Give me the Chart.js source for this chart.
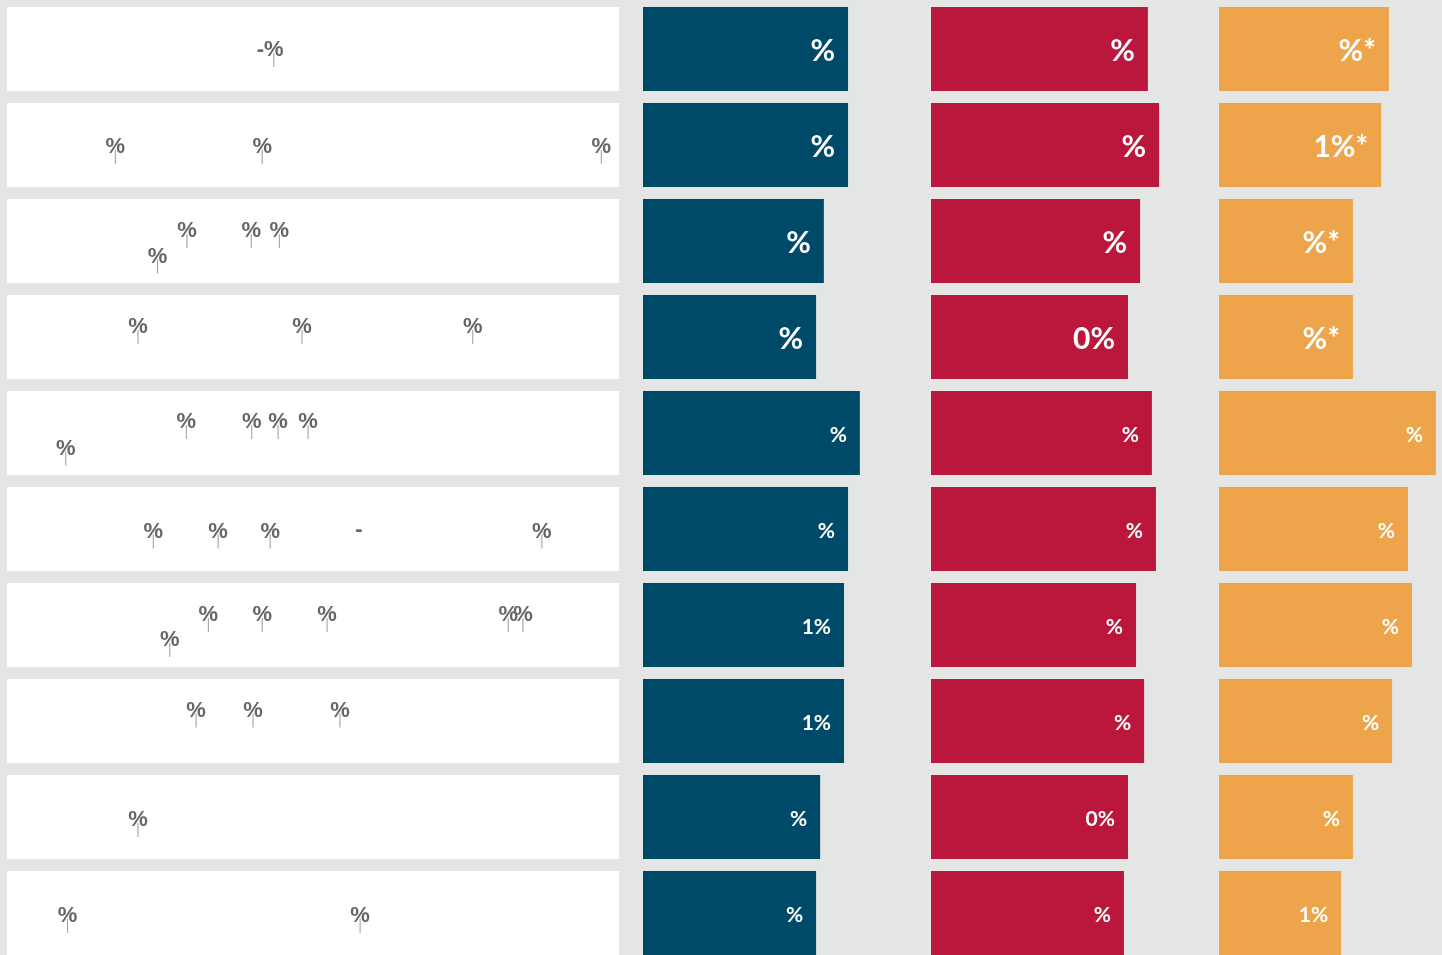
<!DOCTYPE html>
<html>
<head>
<meta charset="utf-8">
<script src="https://cdn.jsdelivr.net/npm/chart.js@4.4.1/dist/chart.umd.min.js"></script>
<style>
  html, body { margin: 0; padding: 0; width: 1442px; height: 955px; overflow: hidden; background: #e4e6e5; }
  canvas { position: absolute; top: 1px; }
</style>
</head>
<body>
<canvas id="scat" width="612" height="960" style="left:7px"></canvas>
<canvas id="c1" width="288" height="960" style="left:643px"></canvas>
<canvas id="c2" width="288" height="960" style="left:931px"></canvas>
<canvas id="c3" width="288" height="960" style="left:1219px"></canvas>
<script>
// ---- data ----
const rows = ["1", "2", "3", "4", "5", "6", "7", "8", "9", "10"];

const blueValues   = [71.2, 71.2, 62.8, 60.1, 75.3, 71.2, 69.8, 69.8, 61.5, 60.1];
const redValues    = [75.3, 79.2, 72.6, 68.4, 76.7, 78.1, 71.2, 74.0, 68.4, 67.0];
const orangeValues = [59.0, 56.3, 46.5, 46.5, 75.3, 65.6, 67.0, 60.1, 46.5, 42.4];

const blueLabels   = ["%", "%", "%", "%", "%", "%", "1%", "1%", "%", "%"];
const redLabels    = ["%", "%", "%", "0%", "%", "%", "%", "%", "0%", "%"];
const orangeLabels = ["%*", "1%*", "%*", "%*", "%", "%", "%", "%", "%", "1%"];

// left panel points: row index, x position, vertical lane (row units), label, has marker
const pointRow   = [0,    1,    1,    1,    2,    2,    2,    2,    3,    3,    3,    4,    4,    4,    4,    4,   5,    5,    5,    5,    5,    6,    6,    6,    6,    6,    6,    7,    7,    7,    8,    9,    9];
const pointX     = [43.6, 17.7, 41.7, 97.1, 29.4, 39.9, 44.5, 24.6, 21.4, 48.2, 76.1, 29.3, 40.0, 44.3, 49.2, 9.6, 23.9, 34.5, 43.0, 57.5, 87.4, 32.9, 41.7, 52.3, 81.9, 84.3, 26.6, 30.9, 40.2, 54.4, 21.4, 9.9, 57.7];
const pointLane  = [0.115, 0.125, 0.125, 0.125, 0.0, 0.0, 0.0, 0.265, 0.0, 0.0, 0.0, -0.01, -0.01, -0.01, -0.01, 0.265, 0.13, 0.13, 0.13, 0.125, 0.13, 0.0, 0.0, 0.0, 0.0, 0.0, 0.26, -0.005, -0.005, -0.005, 0.135, 0.135, 0.135];
const pointLabel = ["-%", "%", "%", "%", "%", "%", "%", "%", "%", "%", "%", "%", "%", "%", "%", "%", "%", "%", "%", "-", "%", "%", "%", "%", "%", "%", "%", "%", "%", "%", "%", "%", "%"];
const pointMark  = [1, 1, 1, 1, 1, 1, 1, 1, 1, 1, 1, 1, 1, 1, 1, 1, 1, 1, 1, 0, 1, 1, 1, 1, 1, 1, 1, 1, 1, 1, 1, 1, 1];

// ---- styles ----
const BLUE = "#004a69", RED = "#bb163b", ORANGE = "#eea44a", GREY = "#666666";
const BAR_FONT = "Lato";

Chart.defaults.animation = false;
Chart.defaults.devicePixelRatio = 1;

// white row panels behind the scatter points
const panelPlugin = {
  id: "panels",
  beforeDatasetsDraw(chart) {
    const { ctx, scales: { x, y } } = chart;
    ctx.save();
    ctx.fillStyle = "#ffffff";
    rows.forEach((r, i) => {
      const top = y.getPixelForValue(i - 0.4375);
      const bot = y.getPixelForValue(i + 0.4375);
      ctx.fillRect(x.left, top, x.right - x.left, bot - top);
    });
    ctx.restore();
  }
};

const pointLabelPlugin = {
  id: "pointLabels",
  afterDatasetsDraw(chart) {
    const { ctx } = chart;
    const meta = chart.getDatasetMeta(0);
    ctx.save();
    ctx.font = "bold 22px 'Liberation Sans'";
    ctx.fillStyle = GREY;
    ctx.textBaseline = "middle";
    const half = ctx.measureText("%").width / 2;
    meta.data.forEach((el, i) => {
      const txt = pointLabel[i];
      if (txt.indexOf("%") >= 0) {
        ctx.textAlign = "right";
        ctx.fillText(txt, el.x + half, el.y - 10);
      } else {
        ctx.textAlign = "center";
        ctx.fillText(txt, el.x, el.y - 11);
      }
    });
    ctx.restore();
  }
};

new Chart(document.getElementById("scat"), {
  type: "scatter",
  data: {
    datasets: [{
      data: pointX.map((v, i) => ({ x: v, y: pointRow[i] + pointLane[i] })),
      pointStyle: "line",
      rotation: 90,
      radius: pointMark.map(m => m ? 7 : 0),
      borderColor: "#9a9a9a",
      borderWidth: 1
    }]
  },
  options: {
    responsive: false,
    layout: { padding: 0, autoPadding: false },
    plugins: { legend: { display: false }, tooltip: { enabled: false } },
    scales: {
      x: { type: "linear", min: 0, max: 100, display: false },
      y: { type: "linear", min: -0.5, max: 9.5, reverse: true, display: false }
    }
  },
  plugins: [panelPlugin, pointLabelPlugin]
});

function barLabelPlugin(labels) {
  return {
    id: "barLabels",
    afterDatasetsDraw(chart) {
      const { ctx } = chart;
      const meta = chart.getDatasetMeta(0);
      ctx.save();
      ctx.fillStyle = "#ffffff";
      ctx.textAlign = "right";
      ctx.textBaseline = "middle";
      meta.data.forEach((el, i) => {
        const size = i < 4 ? 30 : 21;
        ctx.font = "bold " + size + "px " + BAR_FONT;
        ctx.fillText(labels[i], el.x - 13, el.y + 2);
      });
      ctx.restore();
    }
  };
}

function barChart(id, values, labels, color) {
  new Chart(document.getElementById(id), {
    type: "bar",
    data: {
      labels: rows,
      datasets: [{
        data: values,
        backgroundColor: color,
        borderWidth: 0,
        barPercentage: 0.875,
        categoryPercentage: 1
      }]
    },
    options: {
      indexAxis: "y",
      responsive: false,
      layout: { padding: 0, autoPadding: false },
      plugins: { legend: { display: false }, tooltip: { enabled: false } },
      scales: {
        x: { type: "linear", min: 0, max: 100, display: false },
        y: { display: false }
      }
    },
    plugins: [barLabelPlugin(labels)]
  });
}

barChart("c1", blueValues, blueLabels, BLUE);
barChart("c2", redValues, redLabels, RED);
barChart("c3", orangeValues, orangeLabels, ORANGE);
</script>
</body>
</html>
